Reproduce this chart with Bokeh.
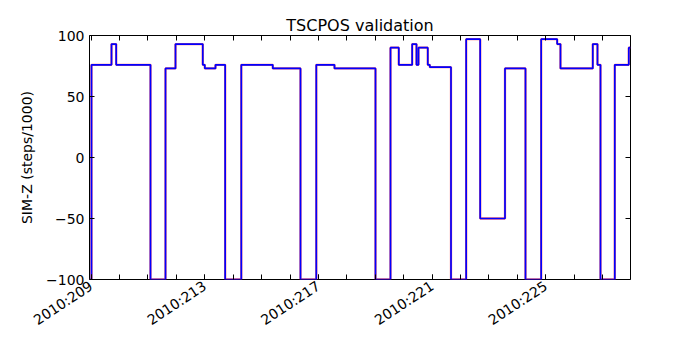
import math
from bokeh.plotting import figure
from bokeh.models import LinearAxis, FixedTicker, Range1d, Title
from bokeh.embed import file_html
from bokeh.resources import INLINE

# Step start times (day of year 2010) and SIM-Z values (steps/1000)
times = [208.944, 209.014, 209.718, 209.883, 211.090, 211.618, 211.970, 212.930,
         213.001, 213.377, 213.718, 214.285, 215.393, 216.368, 216.924, 217.564,
         219.007, 219.535, 219.827, 220.298, 220.450, 220.520, 220.847, 220.918,
         221.664, 222.198, 222.691, 223.564, 224.285, 224.837, 225.400, 225.516,
         226.653, 226.818, 226.924, 227.427, 227.920, 227.980]
simz_tlm = [-100, 76, 93, 76, -100, 73, 93, 76,
            73, 76, -100, 76, 73, -100, 76, 73,
            -100, 90, 76, 93, 76, 90, 76, 74,
            -100, 97, -50, 73, -100, 97, 93, 73,
            93, 76, -100, 76, 90, 90]
simz_pred = list(simz_tlm)

day_ticks = list(range(209, 228))
labeled_days = [209, 213, 217, 221, 225]
day_labels = ["2010:%d" % d for d in labeled_days]
y_ticks = [-100, -50, 0, 50, 100]
x_start, x_end = 208.944, 227.98

FONT = "DejaVu Sans"

p = figure(width=700, height=350, output_backend="svg", toolbar_location=None,
           x_range=Range1d(x_start, x_end), y_range=Range1d(-100, 100),
           min_border_left=89, min_border_right=70, min_border_top=35,
           min_border_bottom=71)
p.title = Title(text="TSCPOS validation", align="center", text_font=FONT,
                text_font_size="16px", text_font_style="normal", text_color="black",
                offset=0, standoff=2)
p.grid.visible = False
p.outline_line_color = "black"
p.outline_line_width = 1
p.background_fill_color = "white"
p.border_fill_color = "white"

p.step(times, simz_pred, mode="after", line_color="#ff0000", line_width=2.3, line_alpha=0.55)
p.step(times, simz_tlm, mode="after", line_color="#0000ff", line_width=1.7)

def style_axis(ax):
    ax.axis_line_color = None
    ax.major_tick_in = 5
    ax.major_tick_out = 0
    ax.minor_tick_in = 5
    ax.minor_tick_out = 0
    ax.major_tick_line_color = "black"
    ax.minor_tick_line_color = "black"
    ax.major_label_text_font = FONT
    ax.major_label_text_font_size = "14px"
    ax.major_label_text_color = "black"

xa = p.xaxis[0]
xa.ticker = FixedTicker(ticks=labeled_days, minor_ticks=day_ticks)
xa.major_label_overrides = {d: s for d, s in zip(labeled_days, day_labels)}
xa.major_label_orientation = 0.58
style_axis(xa)
xa.major_label_standoff = 5

ya = p.yaxis[0]
ya.ticker = FixedTicker(ticks=y_ticks)
style_axis(ya)
ya.axis_label = "SIM-Z (steps/1000)"
ya.axis_label_text_font = FONT
ya.axis_label_text_font_size = "14px"
ya.axis_label_text_font_style = "normal"
ya.axis_label_text_color = "black"
ya.axis_label_standoff = 8

top = LinearAxis(ticker=FixedTicker(ticks=[], minor_ticks=day_ticks))
style_axis(top)
p.add_layout(top, "above")
right = LinearAxis(ticker=FixedTicker(ticks=[], minor_ticks=y_ticks))
style_axis(right)
p.add_layout(right, "right")

open("out.html", "w").write(file_html(p, INLINE))
